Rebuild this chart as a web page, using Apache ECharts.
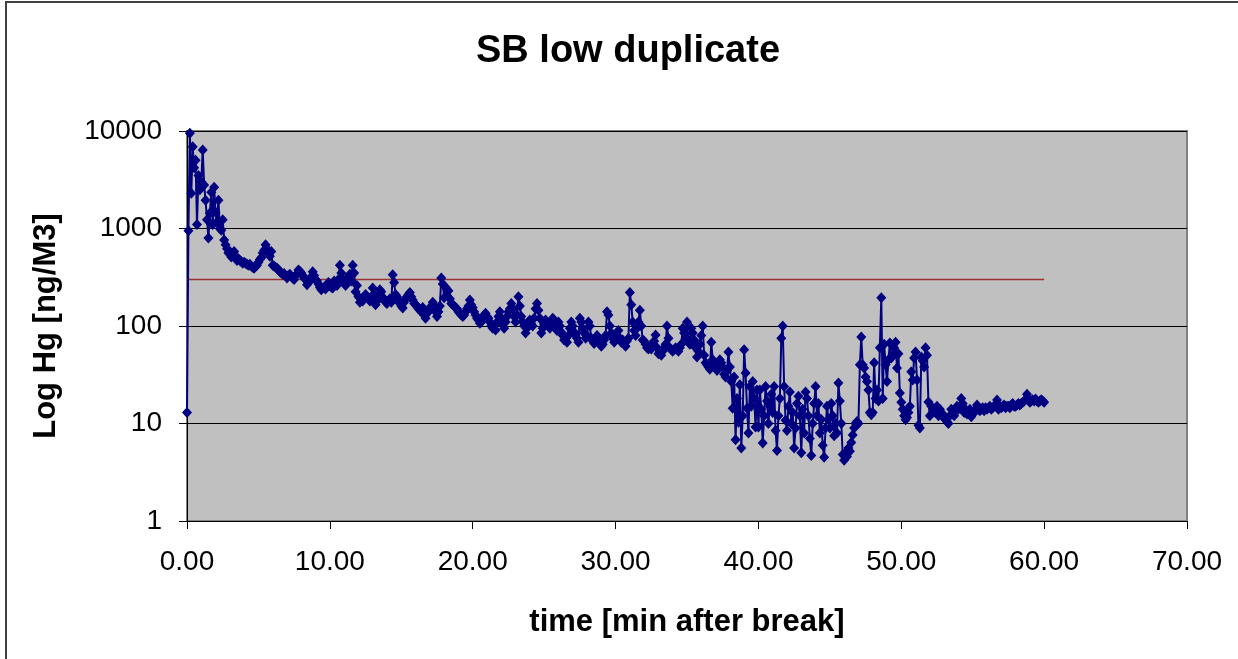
<!DOCTYPE html>
<html>
<head>
<meta charset="utf-8">
<script src="https://cdn.jsdelivr.net/npm/echarts@6/dist/echarts.min.js"></script>
<style>
html,body{margin:0;padding:0;background:#fff;}
#chart{width:1238px;height:659px;}
</style>
</head>
<body>
<div id="chart"></div>
<script>
// Sampling of the Hg readings (minutes after break)
var startMin = 0;
var stepMin = 0.1;
// Hg concentration [ng/M3], one row per minute (10 samples each)
var hgValues = [
  13, 950, 9500, 2300, 6900, 4200, 5000, 1100, 3500, 2500,
  3000, 6400, 2800, 1950, 1230, 800, 1440, 2350, 1100, 2650,
  1470, 1170, 1950, 1000, 960, 1230, 760, 680, 620, 560,
  580, 510, 540, 580, 520, 470, 490, 470, 460, 440,
  450, 440, 430, 420, 430, 410, 400, 390, 410, 420,
  450, 480, 500, 560, 600, 680, 620, 560, 520, 580,
  420, 410, 400, 390, 380, 360, 350, 340, 345, 330,
  310, 330, 340, 320, 310, 300, 330, 340, 375, 365,
  350, 330, 310, 300, 265, 280, 290, 320, 360, 330,
  300, 290, 270, 250, 235, 245, 250, 240, 260, 280,
  260, 250, 245, 290, 280, 260, 300, 420, 350, 300,
  280, 260, 310, 300, 340, 290, 420, 350, 225, 260,
  200, 175, 190, 180, 195, 210, 200, 190, 180, 200,
  245, 210, 165, 180, 200, 235, 225, 195, 190, 175,
  170, 180, 190, 175, 335, 280, 210, 200, 185, 170,
  160, 153, 175, 190, 200, 210, 220, 200, 185, 170,
  165, 160, 150, 145, 140, 155, 130, 120, 135, 140,
  150, 160, 175, 160, 140, 125, 140, 160, 310, 270,
  195, 250, 205, 230, 190, 170, 165, 160, 155, 150,
  140, 135, 130, 125, 130, 140, 150, 160, 185, 165,
  155, 140, 130, 120, 115, 107, 110, 120, 130, 135,
  125, 120, 110, 100, 95, 100, 91, 110, 125, 140,
  120, 105, 95, 110, 125, 140, 150, 170, 150, 125,
  110, 130, 200, 160, 125, 110, 100, 85, 95, 110,
  115, 105, 100, 120, 150, 170, 145, 120, 85, 95,
  110, 115, 105, 100, 95, 110, 120, 115, 100, 90,
  110, 100, 87, 80, 72, 75, 68, 80, 95, 110,
  100, 87, 80, 75, 68, 120, 110, 95, 85, 75,
  80, 110, 100, 75, 70, 66, 70, 80, 75, 68,
  62, 65, 72, 80, 140, 130, 100, 85, 75, 68,
  72, 80, 90, 75, 68, 72, 65, 62, 70, 75,
  220, 165, 110, 90, 80, 95, 110, 145, 100, 72,
  70, 65, 60, 58, 62, 58, 65, 70, 81, 60,
  52, 55, 50, 55, 60, 65, 100, 75, 60, 57,
  55, 57, 60, 58, 55, 60, 65, 95, 85, 75,
  110, 72, 65, 95, 85, 72, 60, 48, 55, 65,
  80, 100, 50, 42, 40, 38, 36, 68, 45, 40,
  38, 35, 40, 45, 42, 38, 32, 30, 35, 54,
  38, 27, 14.3, 30, 6.8, 18, 10.3, 25, 5.6, 12,
  57, 33, 14.3, 8, 24, 15, 27, 18, 9.2, 22,
  9.2, 22, 14, 6.3, 12, 24, 17, 10, 15, 20,
  13, 24, 8.5, 5.3, 12, 18, 75, 100, 24, 10.8,
  8.5, 15, 21, 10, 13, 5.6, 9, 16, 19, 12,
  5.0, 14, 8, 21, 18, 12, 7, 4.7, 10, 16,
  24, 12, 16, 8, 11, 6, 4.5, 9, 15, 11,
  9, 16, 12, 7.5, 10, 8, 26, 17, 10, 4.8,
  4.2, 5.0, 4.6, 5.6, 5.2, 6.4, 7.6, 9, 10, 10.5,
  10, 40, 77, 40, 37, 30, 27, 22, 13, 12.3,
  13, 42, 18, 22, 17, 60, 195, 18, 65, 40,
  27, 45, 67, 47, 50, 60, 68, 37, 52, 20.5,
  16.5, 14, 12, 10.9, 11.5, 13, 15, 34, 28, 47,
  54, 28, 9.6, 9, 48, 44, 38, 60, 50, 16.6,
  12, 15, 13, 14, 13, 15, 12, 14, 13, 11.7,
  12, 11, 10.4, 10, 12, 14, 13, 12, 14, 15,
  14, 15, 18, 16, 13, 14, 12.5, 13, 14, 11.7,
  12.5, 13, 14, 15.5, 14, 13.5, 14, 14.5, 13.5, 14.5,
  14, 14.5, 15, 14, 14.5, 15, 15.5, 17.4, 14, 15,
  14.5, 15, 15.5, 14.5, 15, 15, 14.5, 15.5, 16, 15,
  15, 15.5, 16, 15.5, 16, 16.5, 17, 17.5, 20, 17.5,
  16.5, 17, 17.5, 17, 17.8, 17, 16.5, 17, 17.5, 17,
  16.5
];
// Reference level line
var thresholdTimes = [0, 60];
var thresholdLevel = [300, 300];
// Axis ticks
var xTicks = [0, 10, 20, 30, 40, 50, 60, 70];
var yTicks = [1, 10, 100, 1000, 10000];

var hgData = hgValues.map(function (v, i) {
  return [Math.round((startMin + i * stepMin) * 100) / 100, v];
});
var thrData = thresholdTimes.map(function (t, i) { return [t, thresholdLevel[i]]; });

var chart = echarts.init(document.getElementById('chart'), null, {renderer: 'canvas'});
var FONT = 'Liberation Sans, Arial, sans-serif';
chart.setOption({
  animation: false,
  backgroundColor: '#ffffff',
  title: {
    text: 'SB low duplicate',
    left: 623, top: 28, textAlign: 'center',
    textStyle: {fontFamily: FONT, fontSize: 38, fontWeight: 'bold', color: '#000'}
  },
  graphic: [{
    type: 'rect', silent: true, z: 100,
    shape: {x: 6, y: 2, width: 1300, height: 700},
    style: {fill: 'none', stroke: '#404040', lineWidth: 2}
  }],
  grid: {
    left: 187, top: 131, width: 1000, height: 390,
    show: true, backgroundColor: '#C0C0C0', borderColor: '#808080', borderWidth: 2,
    containLabel: false
  },
  xAxis: {
    type: 'value', min: xTicks[0], max: xTicks[xTicks.length - 1], interval: 10,
    name: 'time [min after break]', nameLocation: 'middle', nameGap: 86,
    nameTextStyle: {fontFamily: FONT, fontSize: 31, fontWeight: 'bold', color: '#000'},
    axisLine: {show: true, onZero: false, lineStyle: {color: '#000', width: 1}},
    axisTick: {show: true, inside: false, length: 8, lineStyle: {color: '#000'}},
    axisLabel: {
      margin: 27, fontFamily: FONT, fontSize: 28, color: '#000',
      formatter: function (v) { return v.toFixed(2); }
    },
    splitLine: {show: false}
  },
  yAxis: {
    type: 'log', logBase: 10, min: yTicks[0], max: yTicks[yTicks.length - 1],
    name: 'Log Hg [ng/M3]', nameLocation: 'middle', nameGap: 125, nameRotate: 90,
    nameTextStyle: {fontFamily: FONT, fontSize: 31, fontWeight: 'bold', color: '#000'},
    axisLine: {show: true, lineStyle: {color: '#000', width: 1}},
    axisTick: {show: true, inside: false, length: 8, lineStyle: {color: '#000'}},
    axisLabel: {margin: 25, fontFamily: FONT, fontSize: 28, color: '#000',
      formatter: function (v) { return String(Math.round(v)); }},
    splitLine: {show: true, lineStyle: {color: '#000', width: 1}}
  },
  series: [{
    name: 'Hg', type: 'line', data: hgData,
    symbol: 'diamond', symbolSize: [10, 11], showSymbol: true,
    lineStyle: {color: '#000080', width: 2},
    itemStyle: {color: '#000080'},
    z: 3
  }, {
    name: 'level', type: 'line', data: thrData,
    symbol: 'none',
    lineStyle: {color: '#993333', width: 1.5},
    z: 2
  }]
});
</script>
</body>
</html>
